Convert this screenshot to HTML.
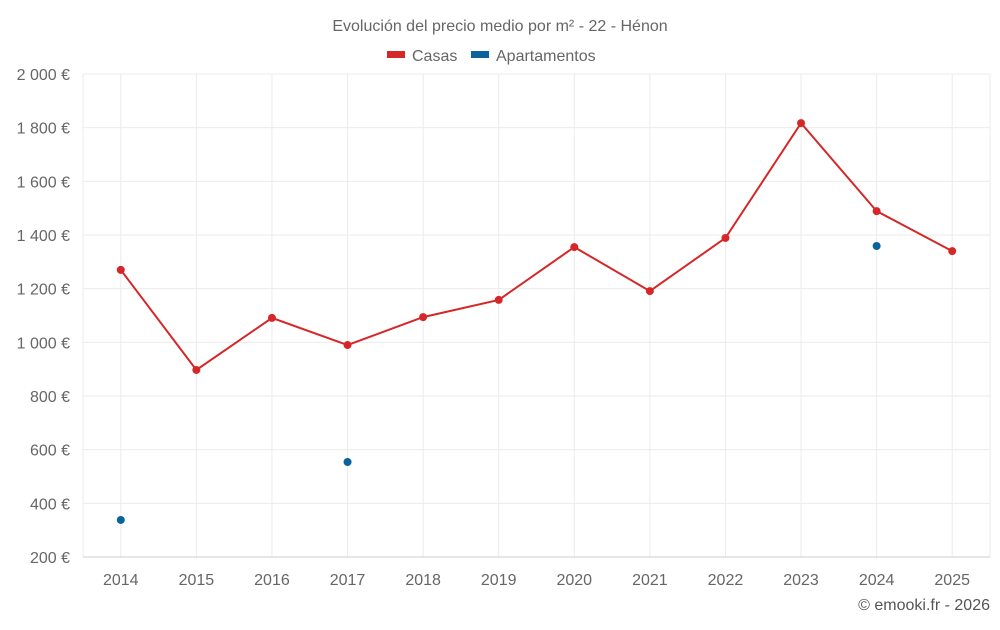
<!DOCTYPE html>
<html><head><meta charset="utf-8"><style>
body{margin:0;background:#fff;font-family:"Liberation Sans",sans-serif;}
svg text{font-family:"Liberation Sans",sans-serif;}
</style></head><body>
<svg id="chart" width="1000" height="625" viewBox="0 0 1000 625" xmlns="http://www.w3.org/2000/svg">
<text x="500" y="31" text-anchor="middle" font-size="16" fill="#666">Evolución del precio medio por m² - 22 - Hénon</text>
<g>
<g><rect x="387" y="51" width="18" height="7" fill="#d62728"/><text x="412" y="61" font-size="16" fill="#666">Casas</text></g>
<g><rect x="471" y="51" width="18" height="7" fill="#0a639e"/><text x="496" y="61" font-size="16" fill="#666">Apartamentos</text></g>
</g>
<g id="grid"></g><g id="axes"></g><g id="series"></g>
<text x="990" y="610" text-anchor="end" font-size="16" fill="#555">© emooki.fr - 2026</text>
</svg>
<script>
const years=["2014","2015","2016","2017","2018","2019","2020","2021","2022","2023","2024","2025"];
const casas=[1270,897,1091,990,1094,1158,1355,1191,1389,1817,1489,1340];
const apartamentos=[338,null,null,554,null,null,null,null,null,null,1359,null];
const yTicks=[200,400,600,800,1000,1200,1400,1600,1800,2000];
const yTickLabels=["200 €","400 €","600 €","800 €","1 000 €","1 200 €","1 400 €","1 600 €","1 800 €","2 000 €"];
const NS="http://www.w3.org/2000/svg";
const L=83,R=990,T=74,B=557;
const step=(R-L)/years.length;
function xs(i){return L+step*(i+0.5);}
function ys(v){return B-(v-200)/1800*(B-T);}
function mk(tag,attrs,parent){const e=document.createElementNS(NS,tag);for(const k in attrs)e.setAttribute(k,attrs[k]);parent.appendChild(e);return e;}
const grid=document.getElementById('grid'),axes=document.getElementById('axes'),series=document.getElementById('series');
yTicks.forEach((v,i)=>{
 const l=mk('line',{x1:L,x2:R,y1:ys(v),y2:ys(v),stroke:'#ebebeb','stroke-width':1},grid);
 
 
 const t=mk('text',{x:70,y:ys(v)+6,'text-anchor':'end','font-size':16,fill:'#666'},axes);
 t.textContent=yTickLabels[i];
 
 
});
const vx=[L,R];
years.forEach((y,i)=>vx.push(xs(i)));
vx.forEach(x=>{
 const l=mk('line',{x1:x,x2:x,y1:T,y2:B,stroke:'#ebebeb'},grid);
 
 
});
years.forEach((y,i)=>{
 const t=mk('text',{x:xs(i),y:585,'text-anchor':'middle','font-size':16,fill:'#666'},axes);
 t.textContent=y;
 
 
});
const ax=mk('line',{x1:L,x2:R,y1:B,y2:B,stroke:'#ccc'},axes);


const pts=casas.map((v,i)=>xs(i)+','+ys(v)).join(' ');
const pl=mk('polyline',{points:pts,fill:'none',stroke:'#d62728','stroke-width':2},series);


casas.forEach((v,i)=>{
 const c=mk('circle',{cx:xs(i),cy:ys(v),r:4,fill:'#d62728'},series);
 
 
});
apartamentos.forEach((v,i)=>{
 if(v==null)return;
 const c=mk('circle',{cx:xs(i),cy:ys(v),r:4,fill:'#0a639e'},series);
 
 
});
</script>
</body></html>
